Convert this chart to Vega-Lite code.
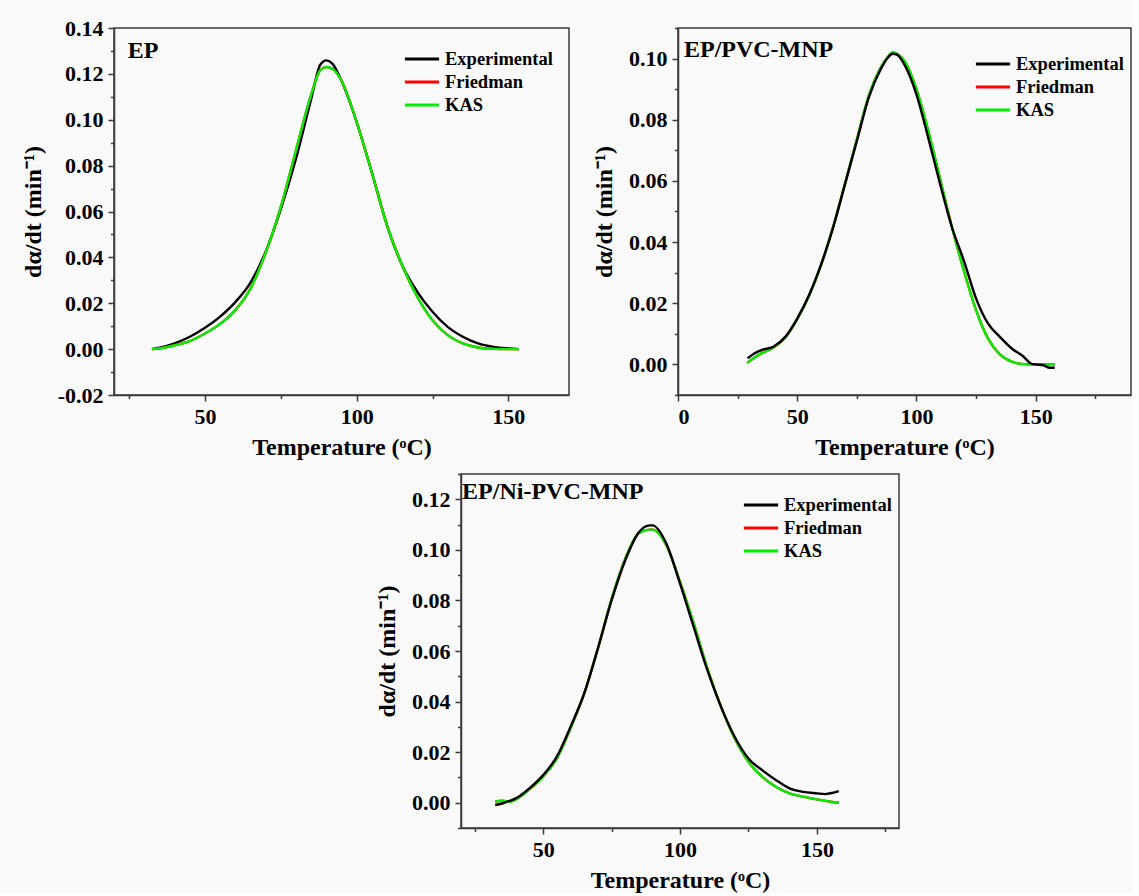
{
  "$schema": "https://vega.github.io/schema/vega-lite/v6.json",
  "background": "#f9f9f9",
  "padding": {"left": 20, "top": 16, "right": 0, "bottom": 0},
  "config": {
    "view": {"stroke": "#3a3a3a", "strokeWidth": 1.5},
    "axis": {
      "grid": false,
      "domainColor": "#3a3a3a", "domainWidth": 1.5,
      "tickColor": "#3a3a3a", "tickWidth": 1.5,
      "labelFont": "Liberation Serif", "labelFontWeight": "bold", "labelFontSize": 22, "labelColor": "#000000",
      "titleFont": "Liberation Serif", "titleFontWeight": "bold", "titleFontSize": 24, "titleColor": "#000000",
      "labelOverlap": false
    },
    "legend": {
      "orient": "none", "title": null, "symbolType": "M-1.5,0L1.5,0", "symbolStrokeWidth": 3,
      "symbolSize": 520, "labelFont": "Liberation Serif", "labelFontWeight": "bold", "labelFontSize": 18.5,
      "labelColor": "#000000", "rowPadding": 0, "labelOffset": 10, "padding": 0
    },
    "text": {"font": "Liberation Serif", "fontWeight": "bold", "fontSize": 24, "color": "#000000"}
  },
  "datasets": {
    "curves": [
      {"p": "EP", "s": "Experimental", "T": 32.5, "v": 0},
      {"p": "EP", "s": "Experimental", "T": 35, "v": 0.0006},
      {"p": "EP", "s": "Experimental", "T": 40, "v": 0.0025},
      {"p": "EP", "s": "Experimental", "T": 45, "v": 0.0054},
      {"p": "EP", "s": "Experimental", "T": 50, "v": 0.0093},
      {"p": "EP", "s": "Experimental", "T": 55, "v": 0.0142},
      {"p": "EP", "s": "Experimental", "T": 60, "v": 0.0205},
      {"p": "EP", "s": "Experimental", "T": 65, "v": 0.029},
      {"p": "EP", "s": "Experimental", "T": 70, "v": 0.0425},
      {"p": "EP", "s": "Experimental", "T": 75, "v": 0.061},
      {"p": "EP", "s": "Experimental", "T": 80, "v": 0.083},
      {"p": "EP", "s": "Experimental", "T": 85, "v": 0.109},
      {"p": "EP", "s": "Experimental", "T": 88, "v": 0.1240},
      {"p": "EP", "s": "Experimental", "T": 90, "v": 0.1259},
      {"p": "EP", "s": "Experimental", "T": 92, "v": 0.1245},
      {"p": "EP", "s": "Experimental", "T": 95, "v": 0.117},
      {"p": "EP", "s": "Experimental", "T": 100, "v": 0.099},
      {"p": "EP", "s": "Experimental", "T": 105, "v": 0.077},
      {"p": "EP", "s": "Experimental", "T": 110, "v": 0.054},
      {"p": "EP", "s": "Experimental", "T": 115, "v": 0.0366},
      {"p": "EP", "s": "Experimental", "T": 120, "v": 0.025},
      {"p": "EP", "s": "Experimental", "T": 125, "v": 0.0163},
      {"p": "EP", "s": "Experimental", "T": 130, "v": 0.0097},
      {"p": "EP", "s": "Experimental", "T": 135, "v": 0.0054},
      {"p": "EP", "s": "Experimental", "T": 140, "v": 0.0025},
      {"p": "EP", "s": "Experimental", "T": 145, "v": 0.001},
      {"p": "EP", "s": "Experimental", "T": 150, "v": 0.0003},
      {"p": "EP", "s": "Experimental", "T": 153.5, "v": 0},
      {"p": "EP", "s": "Friedman", "T": 32.5, "v": 0},
      {"p": "EP", "s": "Friedman", "T": 35, "v": 0.0003},
      {"p": "EP", "s": "Friedman", "T": 40, "v": 0.0017},
      {"p": "EP", "s": "Friedman", "T": 45, "v": 0.0035},
      {"p": "EP", "s": "Friedman", "T": 50, "v": 0.0068},
      {"p": "EP", "s": "Friedman", "T": 55, "v": 0.011},
      {"p": "EP", "s": "Friedman", "T": 60, "v": 0.017},
      {"p": "EP", "s": "Friedman", "T": 65, "v": 0.0264},
      {"p": "EP", "s": "Friedman", "T": 70, "v": 0.042},
      {"p": "EP", "s": "Friedman", "T": 75, "v": 0.062},
      {"p": "EP", "s": "Friedman", "T": 80, "v": 0.0867},
      {"p": "EP", "s": "Friedman", "T": 85, "v": 0.111},
      {"p": "EP", "s": "Friedman", "T": 88, "v": 0.1216},
      {"p": "EP", "s": "Friedman", "T": 90, "v": 0.123},
      {"p": "EP", "s": "Friedman", "T": 92, "v": 0.1222},
      {"p": "EP", "s": "Friedman", "T": 95, "v": 0.117},
      {"p": "EP", "s": "Friedman", "T": 100, "v": 0.099},
      {"p": "EP", "s": "Friedman", "T": 105, "v": 0.077},
      {"p": "EP", "s": "Friedman", "T": 110, "v": 0.054},
      {"p": "EP", "s": "Friedman", "T": 115, "v": 0.0366},
      {"p": "EP", "s": "Friedman", "T": 120, "v": 0.0228},
      {"p": "EP", "s": "Friedman", "T": 125, "v": 0.0126},
      {"p": "EP", "s": "Friedman", "T": 130, "v": 0.0061},
      {"p": "EP", "s": "Friedman", "T": 135, "v": 0.0025},
      {"p": "EP", "s": "Friedman", "T": 140, "v": 0.0007},
      {"p": "EP", "s": "Friedman", "T": 145, "v": 0.0001},
      {"p": "EP", "s": "Friedman", "T": 150, "v": 0},
      {"p": "EP", "s": "Friedman", "T": 153.5, "v": 0},
      {"p": "EP", "s": "KAS", "T": 32.5, "v": 0},
      {"p": "EP", "s": "KAS", "T": 35, "v": 0.0003},
      {"p": "EP", "s": "KAS", "T": 40, "v": 0.0017},
      {"p": "EP", "s": "KAS", "T": 45, "v": 0.0035},
      {"p": "EP", "s": "KAS", "T": 50, "v": 0.0068},
      {"p": "EP", "s": "KAS", "T": 55, "v": 0.011},
      {"p": "EP", "s": "KAS", "T": 60, "v": 0.017},
      {"p": "EP", "s": "KAS", "T": 65, "v": 0.0264},
      {"p": "EP", "s": "KAS", "T": 70, "v": 0.042},
      {"p": "EP", "s": "KAS", "T": 75, "v": 0.062},
      {"p": "EP", "s": "KAS", "T": 80, "v": 0.0867},
      {"p": "EP", "s": "KAS", "T": 85, "v": 0.111},
      {"p": "EP", "s": "KAS", "T": 88, "v": 0.1216},
      {"p": "EP", "s": "KAS", "T": 90, "v": 0.123},
      {"p": "EP", "s": "KAS", "T": 92, "v": 0.1222},
      {"p": "EP", "s": "KAS", "T": 95, "v": 0.117},
      {"p": "EP", "s": "KAS", "T": 100, "v": 0.099},
      {"p": "EP", "s": "KAS", "T": 105, "v": 0.077},
      {"p": "EP", "s": "KAS", "T": 110, "v": 0.054},
      {"p": "EP", "s": "KAS", "T": 115, "v": 0.0366},
      {"p": "EP", "s": "KAS", "T": 120, "v": 0.0228},
      {"p": "EP", "s": "KAS", "T": 125, "v": 0.0126},
      {"p": "EP", "s": "KAS", "T": 130, "v": 0.0061},
      {"p": "EP", "s": "KAS", "T": 135, "v": 0.0025},
      {"p": "EP", "s": "KAS", "T": 140, "v": 0.0007},
      {"p": "EP", "s": "KAS", "T": 145, "v": 0.0001},
      {"p": "EP", "s": "KAS", "T": 150, "v": 0},
      {"p": "EP", "s": "KAS", "T": 153.5, "v": 0},

      {"p": "PVC", "s": "Friedman", "T": 29, "v": 0.0005},
      {"p": "PVC", "s": "Friedman", "T": 32, "v": 0.0022},
      {"p": "PVC", "s": "Friedman", "T": 35, "v": 0.0036},
      {"p": "PVC", "s": "Friedman", "T": 40, "v": 0.0055},
      {"p": "PVC", "s": "Friedman", "T": 45, "v": 0.0088},
      {"p": "PVC", "s": "Friedman", "T": 50, "v": 0.0148},
      {"p": "PVC", "s": "Friedman", "T": 55, "v": 0.0225},
      {"p": "PVC", "s": "Friedman", "T": 60, "v": 0.0325},
      {"p": "PVC", "s": "Friedman", "T": 65, "v": 0.0448},
      {"p": "PVC", "s": "Friedman", "T": 70, "v": 0.059},
      {"p": "PVC", "s": "Friedman", "T": 75, "v": 0.0735},
      {"p": "PVC", "s": "Friedman", "T": 80, "v": 0.0878},
      {"p": "PVC", "s": "Friedman", "T": 85, "v": 0.097},
      {"p": "PVC", "s": "Friedman", "T": 88, "v": 0.1005},
      {"p": "PVC", "s": "Friedman", "T": 90, "v": 0.102},
      {"p": "PVC", "s": "Friedman", "T": 92, "v": 0.1015},
      {"p": "PVC", "s": "Friedman", "T": 95, "v": 0.0992},
      {"p": "PVC", "s": "Friedman", "T": 100, "v": 0.090},
      {"p": "PVC", "s": "Friedman", "T": 105, "v": 0.0763},
      {"p": "PVC", "s": "Friedman", "T": 110, "v": 0.0604},
      {"p": "PVC", "s": "Friedman", "T": 115, "v": 0.0446},
      {"p": "PVC", "s": "Friedman", "T": 120, "v": 0.0304},
      {"p": "PVC", "s": "Friedman", "T": 125, "v": 0.0178},
      {"p": "PVC", "s": "Friedman", "T": 130, "v": 0.0085},
      {"p": "PVC", "s": "Friedman", "T": 135, "v": 0.0033},
      {"p": "PVC", "s": "Friedman", "T": 140, "v": 0.0009},
      {"p": "PVC", "s": "Friedman", "T": 145, "v": 0.0001},
      {"p": "PVC", "s": "Friedman", "T": 150, "v": 0},
      {"p": "PVC", "s": "Friedman", "T": 158, "v": 0},
      {"p": "PVC", "s": "KAS", "T": 29, "v": 0.0005},
      {"p": "PVC", "s": "KAS", "T": 32, "v": 0.0022},
      {"p": "PVC", "s": "KAS", "T": 35, "v": 0.0036},
      {"p": "PVC", "s": "KAS", "T": 40, "v": 0.0055},
      {"p": "PVC", "s": "KAS", "T": 45, "v": 0.0088},
      {"p": "PVC", "s": "KAS", "T": 50, "v": 0.0148},
      {"p": "PVC", "s": "KAS", "T": 55, "v": 0.0225},
      {"p": "PVC", "s": "KAS", "T": 60, "v": 0.0325},
      {"p": "PVC", "s": "KAS", "T": 65, "v": 0.0448},
      {"p": "PVC", "s": "KAS", "T": 70, "v": 0.059},
      {"p": "PVC", "s": "KAS", "T": 75, "v": 0.0735},
      {"p": "PVC", "s": "KAS", "T": 80, "v": 0.0878},
      {"p": "PVC", "s": "KAS", "T": 85, "v": 0.097},
      {"p": "PVC", "s": "KAS", "T": 88, "v": 0.1005},
      {"p": "PVC", "s": "KAS", "T": 90, "v": 0.102},
      {"p": "PVC", "s": "KAS", "T": 92, "v": 0.1015},
      {"p": "PVC", "s": "KAS", "T": 95, "v": 0.0992},
      {"p": "PVC", "s": "KAS", "T": 100, "v": 0.090},
      {"p": "PVC", "s": "KAS", "T": 105, "v": 0.0763},
      {"p": "PVC", "s": "KAS", "T": 110, "v": 0.0604},
      {"p": "PVC", "s": "KAS", "T": 115, "v": 0.0446},
      {"p": "PVC", "s": "KAS", "T": 120, "v": 0.0304},
      {"p": "PVC", "s": "KAS", "T": 125, "v": 0.0178},
      {"p": "PVC", "s": "KAS", "T": 130, "v": 0.0085},
      {"p": "PVC", "s": "KAS", "T": 135, "v": 0.0033},
      {"p": "PVC", "s": "KAS", "T": 140, "v": 0.0009},
      {"p": "PVC", "s": "KAS", "T": 145, "v": 0.0001},
      {"p": "PVC", "s": "KAS", "T": 150, "v": 0},
      {"p": "PVC", "s": "KAS", "T": 158, "v": 0},
      {"p": "PVC", "s": "Experimental", "T": 29.2, "v": 0.002},
      {"p": "PVC", "s": "Experimental", "T": 32, "v": 0.0036},
      {"p": "PVC", "s": "Experimental", "T": 35, "v": 0.0047},
      {"p": "PVC", "s": "Experimental", "T": 40, "v": 0.0058},
      {"p": "PVC", "s": "Experimental", "T": 45, "v": 0.009},
      {"p": "PVC", "s": "Experimental", "T": 50, "v": 0.015},
      {"p": "PVC", "s": "Experimental", "T": 55, "v": 0.0227},
      {"p": "PVC", "s": "Experimental", "T": 60, "v": 0.0326},
      {"p": "PVC", "s": "Experimental", "T": 65, "v": 0.0446},
      {"p": "PVC", "s": "Experimental", "T": 70, "v": 0.0588},
      {"p": "PVC", "s": "Experimental", "T": 75, "v": 0.073},
      {"p": "PVC", "s": "Experimental", "T": 80, "v": 0.0872},
      {"p": "PVC", "s": "Experimental", "T": 85, "v": 0.0965},
      {"p": "PVC", "s": "Experimental", "T": 88, "v": 0.1003},
      {"p": "PVC", "s": "Experimental", "T": 90, "v": 0.1016},
      {"p": "PVC", "s": "Experimental", "T": 92, "v": 0.1012},
      {"p": "PVC", "s": "Experimental", "T": 95, "v": 0.098},
      {"p": "PVC", "s": "Experimental", "T": 100, "v": 0.0883},
      {"p": "PVC", "s": "Experimental", "T": 105, "v": 0.074},
      {"p": "PVC", "s": "Experimental", "T": 110, "v": 0.0588},
      {"p": "PVC", "s": "Experimental", "T": 115, "v": 0.0446},
      {"p": "PVC", "s": "Experimental", "T": 120, "v": 0.0337},
      {"p": "PVC", "s": "Experimental", "T": 125, "v": 0.0216},
      {"p": "PVC", "s": "Experimental", "T": 130, "v": 0.0134},
      {"p": "PVC", "s": "Experimental", "T": 135, "v": 0.009},
      {"p": "PVC", "s": "Experimental", "T": 140, "v": 0.0052},
      {"p": "PVC", "s": "Experimental", "T": 145, "v": 0.0025},
      {"p": "PVC", "s": "Experimental", "T": 148, "v": 0.0003},
      {"p": "PVC", "s": "Experimental", "T": 150, "v": 0},
      {"p": "PVC", "s": "Experimental", "T": 153, "v": -0.0002},
      {"p": "PVC", "s": "Experimental", "T": 156, "v": -0.0011},
      {"p": "PVC", "s": "Experimental", "T": 158, "v": -0.0011},

      {"p": "NI", "s": "Friedman", "T": 32.5, "v": 0.0004},
      {"p": "NI", "s": "Friedman", "T": 35, "v": 0.0008},
      {"p": "NI", "s": "Friedman", "T": 38, "v": 0.0004},
      {"p": "NI", "s": "Friedman", "T": 40, "v": 0.0013},
      {"p": "NI", "s": "Friedman", "T": 45, "v": 0.0053},
      {"p": "NI", "s": "Friedman", "T": 50, "v": 0.0103},
      {"p": "NI", "s": "Friedman", "T": 55, "v": 0.0175},
      {"p": "NI", "s": "Friedman", "T": 60, "v": 0.0294},
      {"p": "NI", "s": "Friedman", "T": 65, "v": 0.0432},
      {"p": "NI", "s": "Friedman", "T": 70, "v": 0.061},
      {"p": "NI", "s": "Friedman", "T": 75, "v": 0.0805},
      {"p": "NI", "s": "Friedman", "T": 80, "v": 0.0965},
      {"p": "NI", "s": "Friedman", "T": 85, "v": 0.1067},
      {"p": "NI", "s": "Friedman", "T": 89, "v": 0.108},
      {"p": "NI", "s": "Friedman", "T": 90, "v": 0.108},
      {"p": "NI", "s": "Friedman", "T": 95, "v": 0.1018},
      {"p": "NI", "s": "Friedman", "T": 100, "v": 0.0873},
      {"p": "NI", "s": "Friedman", "T": 105, "v": 0.0709},
      {"p": "NI", "s": "Friedman", "T": 110, "v": 0.0531},
      {"p": "NI", "s": "Friedman", "T": 115, "v": 0.0379},
      {"p": "NI", "s": "Friedman", "T": 120, "v": 0.0254},
      {"p": "NI", "s": "Friedman", "T": 125, "v": 0.0162},
      {"p": "NI", "s": "Friedman", "T": 130, "v": 0.0103},
      {"p": "NI", "s": "Friedman", "T": 135, "v": 0.0063},
      {"p": "NI", "s": "Friedman", "T": 140, "v": 0.0037},
      {"p": "NI", "s": "Friedman", "T": 145, "v": 0.0024},
      {"p": "NI", "s": "Friedman", "T": 150, "v": 0.0013},
      {"p": "NI", "s": "Friedman", "T": 155, "v": 0.0004},
      {"p": "NI", "s": "Friedman", "T": 158, "v": 0},
      {"p": "NI", "s": "KAS", "T": 32.5, "v": 0.0004},
      {"p": "NI", "s": "KAS", "T": 35, "v": 0.0008},
      {"p": "NI", "s": "KAS", "T": 38, "v": 0.0004},
      {"p": "NI", "s": "KAS", "T": 40, "v": 0.0013},
      {"p": "NI", "s": "KAS", "T": 45, "v": 0.0053},
      {"p": "NI", "s": "KAS", "T": 50, "v": 0.0103},
      {"p": "NI", "s": "KAS", "T": 55, "v": 0.0175},
      {"p": "NI", "s": "KAS", "T": 60, "v": 0.0294},
      {"p": "NI", "s": "KAS", "T": 65, "v": 0.0432},
      {"p": "NI", "s": "KAS", "T": 70, "v": 0.061},
      {"p": "NI", "s": "KAS", "T": 75, "v": 0.0805},
      {"p": "NI", "s": "KAS", "T": 80, "v": 0.0965},
      {"p": "NI", "s": "KAS", "T": 85, "v": 0.1067},
      {"p": "NI", "s": "KAS", "T": 89, "v": 0.108},
      {"p": "NI", "s": "KAS", "T": 90, "v": 0.108},
      {"p": "NI", "s": "KAS", "T": 95, "v": 0.1018},
      {"p": "NI", "s": "KAS", "T": 100, "v": 0.0873},
      {"p": "NI", "s": "KAS", "T": 105, "v": 0.0709},
      {"p": "NI", "s": "KAS", "T": 110, "v": 0.0531},
      {"p": "NI", "s": "KAS", "T": 115, "v": 0.0379},
      {"p": "NI", "s": "KAS", "T": 120, "v": 0.0254},
      {"p": "NI", "s": "KAS", "T": 125, "v": 0.0162},
      {"p": "NI", "s": "KAS", "T": 130, "v": 0.0103},
      {"p": "NI", "s": "KAS", "T": 135, "v": 0.0063},
      {"p": "NI", "s": "KAS", "T": 140, "v": 0.0037},
      {"p": "NI", "s": "KAS", "T": 145, "v": 0.0024},
      {"p": "NI", "s": "KAS", "T": 150, "v": 0.0013},
      {"p": "NI", "s": "KAS", "T": 155, "v": 0.0004},
      {"p": "NI", "s": "KAS", "T": 158, "v": 0},
      {"p": "NI", "s": "Experimental", "T": 32.5, "v": -0.0009},
      {"p": "NI", "s": "Experimental", "T": 35, "v": -0.0003},
      {"p": "NI", "s": "Experimental", "T": 38, "v": 0.0008},
      {"p": "NI", "s": "Experimental", "T": 40, "v": 0.0017},
      {"p": "NI", "s": "Experimental", "T": 45, "v": 0.0057},
      {"p": "NI", "s": "Experimental", "T": 50, "v": 0.0109},
      {"p": "NI", "s": "Experimental", "T": 55, "v": 0.0182},
      {"p": "NI", "s": "Experimental", "T": 60, "v": 0.030},
      {"p": "NI", "s": "Experimental", "T": 65, "v": 0.0432},
      {"p": "NI", "s": "Experimental", "T": 70, "v": 0.061},
      {"p": "NI", "s": "Experimental", "T": 75, "v": 0.080},
      {"p": "NI", "s": "Experimental", "T": 80, "v": 0.0959},
      {"p": "NI", "s": "Experimental", "T": 85, "v": 0.107},
      {"p": "NI", "s": "Experimental", "T": 89, "v": 0.1097},
      {"p": "NI", "s": "Experimental", "T": 90, "v": 0.1097},
      {"p": "NI", "s": "Experimental", "T": 95, "v": 0.1025},
      {"p": "NI", "s": "Experimental", "T": 100, "v": 0.0867},
      {"p": "NI", "s": "Experimental", "T": 105, "v": 0.0695},
      {"p": "NI", "s": "Experimental", "T": 110, "v": 0.0524},
      {"p": "NI", "s": "Experimental", "T": 115, "v": 0.0379},
      {"p": "NI", "s": "Experimental", "T": 120, "v": 0.026},
      {"p": "NI", "s": "Experimental", "T": 125, "v": 0.0175},
      {"p": "NI", "s": "Experimental", "T": 130, "v": 0.0129},
      {"p": "NI", "s": "Experimental", "T": 135, "v": 0.009},
      {"p": "NI", "s": "Experimental", "T": 140, "v": 0.0057},
      {"p": "NI", "s": "Experimental", "T": 145, "v": 0.0043},
      {"p": "NI", "s": "Experimental", "T": 150, "v": 0.0037},
      {"p": "NI", "s": "Experimental", "T": 153, "v": 0.0034},
      {"p": "NI", "s": "Experimental", "T": 156, "v": 0.004},
      {"p": "NI", "s": "Experimental", "T": 158, "v": 0.0046}
    ]
  },
  "resolve": {"legend": {"color": "independent"}, "scale": {"x": "independent", "y": "independent"}},
  "spacing": 2,
  "vconcat": [
    {
      "hconcat": [
        {
          "width": 455, "height": 367,
          "layer": [
            {
              "data": {"name": "curves"},
              "transform": [{"filter": "datum.p == 'EP'"}],
              "mark": {"type": "line", "interpolate": "monotone", "strokeWidth": 2.4},
              "encoding": {
                "x": {"field": "T", "type": "quantitative", "scale": {"domain": [20, 170], "nice": false, "zero": false},
                  "axis": {"title": "Temperature (ᵒC)", "values": [25, 50, 75, 100, 125, 150],
                    "labelExpr": "datum.value % 50 == 0 ? datum.label : ''",
                    "tickSize": {"condition": {"test": "datum.value % 50 != 0", "value": 3.5}, "value": 6},
                    "labelPadding": 5, "titlePadding": 8}},
                "y": {"field": "v", "type": "quantitative", "scale": {"domain": [-0.02, 0.14], "nice": false, "zero": false},
                  "axis": {"title": "dα/dt (min⁻¹)", "values": [-0.02, -0.01, 0, 0.01, 0.02, 0.03, 0.04, 0.05, 0.06, 0.07, 0.08, 0.09, 0.1, 0.11, 0.12, 0.13, 0.14],
                    "labelExpr": "abs(round(datum.value*100)) % 2 == 0 ? replace(format(datum.value, '.2f'), '\u2212', '-') : ''",
                    "tickSize": {"condition": {"test": "abs(round(datum.value*100)) % 2 == 1", "value": 3.5}, "value": 6},
                    "labelPadding": 5, "titlePadding": 12}},
                "color": {"field": "s", "type": "nominal",
                  "scale": {"domain": ["Experimental", "Friedman", "KAS"], "range": ["#000000", "#ff0000", "#00ee00"]},
                  "legend": {"legendX": 295, "legendY": 18}}
              }
            },
            {
              "data": {"values": [{"label": "EP"}]},
              "mark": {"type": "text", "align": "left", "baseline": "middle"},
              "encoding": {
                "x": {"datum": 24.5, "type": "quantitative",
                  "axis": {"title": "Temperature (ᵒC)", "values": [25, 50, 75, 100, 125, 150],
                    "labelExpr": "datum.value % 50 == 0 ? datum.label : ''",
                    "tickSize": {"condition": {"test": "datum.value % 50 != 0", "value": 3.5}, "value": 6},
                    "labelPadding": 5, "titlePadding": 8}},
                "y": {"datum": 0.130, "type": "quantitative",
                  "axis": {"title": "dα/dt (min⁻¹)", "values": [-0.02, -0.01, 0, 0.01, 0.02, 0.03, 0.04, 0.05, 0.06, 0.07, 0.08, 0.09, 0.1, 0.11, 0.12, 0.13, 0.14],
                    "labelExpr": "abs(round(datum.value*100)) % 2 == 0 ? replace(format(datum.value, '.2f'), '\u2212', '-') : ''",
                    "tickSize": {"condition": {"test": "abs(round(datum.value*100)) % 2 == 1", "value": 3.5}, "value": 6},
                    "labelPadding": 5, "titlePadding": 12}},
                "text": {"field": "label"}}
            }
          ]
        },
        {
          "width": 453, "height": 367,
          "layer": [
            {
              "data": {"name": "curves"},
              "transform": [{"filter": "datum.p == 'PVC'"}],
              "mark": {"type": "line", "interpolate": "monotone", "strokeWidth": 2.4},
              "encoding": {
                "x": {"field": "T", "type": "quantitative", "scale": {"domain": [0, 190], "nice": false, "zero": false},
                  "axis": {"title": "Temperature (ᵒC)", "values": [0, 25, 50, 75, 100, 125, 150, 175],
                    "labelExpr": "datum.value % 50 == 0 ? datum.label : ''",
                    "tickSize": {"condition": {"test": "datum.value % 50 != 0", "value": 3.5}, "value": 6},
                    "labelPadding": 5, "titlePadding": 8}},
                "y": {"field": "v", "type": "quantitative", "scale": {"domain": [-0.01, 0.11], "nice": false, "zero": false},
                  "axis": {"title": "dα/dt (min⁻¹)", "values": [-0.01, 0, 0.01, 0.02, 0.03, 0.04, 0.05, 0.06, 0.07, 0.08, 0.09, 0.1, 0.11],
                    "labelExpr": "abs(round(datum.value*100)) % 2 == 0 ? replace(format(datum.value, '.2f'), '\u2212', '-') : ''",
                    "tickSize": {"condition": {"test": "abs(round(datum.value*100)) % 2 == 1", "value": 3.5}, "value": 6},
                    "labelPadding": 5, "titlePadding": 12}},
                "color": {"field": "s", "type": "nominal",
                  "scale": {"domain": ["Experimental", "Friedman", "KAS"], "range": ["#000000", "#ff0000", "#00ee00"]},
                  "legend": {"legendX": 302, "legendY": 23}}
              }
            },
            {
              "data": {"values": [{"label": "EP/PVC-MNP"}]},
              "mark": {"type": "text", "align": "left", "baseline": "middle"},
              "encoding": {
                "x": {"datum": 2.5, "type": "quantitative",
                  "axis": {"title": "Temperature (ᵒC)", "values": [0, 25, 50, 75, 100, 125, 150, 175],
                    "labelExpr": "datum.value % 50 == 0 ? datum.label : ''",
                    "tickSize": {"condition": {"test": "datum.value % 50 != 0", "value": 3.5}, "value": 6},
                    "labelPadding": 5, "titlePadding": 8}},
                "y": {"datum": 0.1027, "type": "quantitative",
                  "axis": {"title": "dα/dt (min⁻¹)", "values": [-0.01, 0, 0.01, 0.02, 0.03, 0.04, 0.05, 0.06, 0.07, 0.08, 0.09, 0.1, 0.11],
                    "labelExpr": "abs(round(datum.value*100)) % 2 == 0 ? replace(format(datum.value, '.2f'), '\u2212', '-') : ''",
                    "tickSize": {"condition": {"test": "abs(round(datum.value*100)) % 2 == 1", "value": 3.5}, "value": 6},
                    "labelPadding": 5, "titlePadding": 12}},
                "text": {"field": "label"}}
            }
          ]
        }
      ],
      "spacing": 21,
      "resolve": {"legend": {"color": "independent"}, "scale": {"x": "independent", "y": "independent"}}
    },
    {
      "hconcat": [
        {
          "width": 260, "height": 10,
          "data": {"values": []},
          "mark": {"type": "point", "opacity": 0},
          "view": {"stroke": null}
        },
        {
          "width": 438, "height": 354,
          "layer": [
            {
              "data": {"name": "curves"},
              "transform": [{"filter": "datum.p == 'NI'"}],
              "mark": {"type": "line", "interpolate": "monotone", "strokeWidth": 2.4},
              "encoding": {
                "x": {"field": "T", "type": "quantitative", "scale": {"domain": [20, 180], "nice": false, "zero": false},
                  "axis": {"title": "Temperature (ᵒC)", "values": [25, 50, 75, 100, 125, 150, 175],
                    "labelExpr": "datum.value % 50 == 0 ? datum.label : ''",
                    "tickSize": {"condition": {"test": "datum.value % 50 != 0", "value": 3.5}, "value": 6},
                    "labelPadding": 5, "titlePadding": 8}},
                "y": {"field": "v", "type": "quantitative", "scale": {"domain": [-0.01, 0.13], "nice": false, "zero": false},
                  "axis": {"title": "dα/dt (min⁻¹)", "values": [-0.01, 0, 0.01, 0.02, 0.03, 0.04, 0.05, 0.06, 0.07, 0.08, 0.09, 0.1, 0.11, 0.12, 0.13],
                    "labelExpr": "abs(round(datum.value*100)) % 2 == 0 ? replace(format(datum.value, '.2f'), '\u2212', '-') : ''",
                    "tickSize": {"condition": {"test": "abs(round(datum.value*100)) % 2 == 1", "value": 3.5}, "value": 6},
                    "labelPadding": 5, "titlePadding": 12}},
                "color": {"field": "s", "type": "nominal",
                  "scale": {"domain": ["Experimental", "Friedman", "KAS"], "range": ["#000000", "#ff0000", "#00ee00"]},
                  "legend": {"legendX": 287, "legendY": 18}}
              }
            },
            {
              "data": {"values": [{"label": "EP/Ni-PVC-MNP"}]},
              "mark": {"type": "text", "align": "left", "baseline": "middle"},
              "encoding": {
                "x": {"datum": 20.4, "type": "quantitative",
                  "axis": {"title": "Temperature (ᵒC)", "values": [25, 50, 75, 100, 125, 150, 175],
                    "labelExpr": "datum.value % 50 == 0 ? datum.label : ''",
                    "tickSize": {"condition": {"test": "datum.value % 50 != 0", "value": 3.5}, "value": 6},
                    "labelPadding": 5, "titlePadding": 8}},
                "y": {"datum": 0.1227, "type": "quantitative",
                  "axis": {"title": "dα/dt (min⁻¹)", "values": [-0.01, 0, 0.01, 0.02, 0.03, 0.04, 0.05, 0.06, 0.07, 0.08, 0.09, 0.1, 0.11, 0.12, 0.13],
                    "labelExpr": "abs(round(datum.value*100)) % 2 == 0 ? replace(format(datum.value, '.2f'), '\u2212', '-') : ''",
                    "tickSize": {"condition": {"test": "abs(round(datum.value*100)) % 2 == 1", "value": 3.5}, "value": 6},
                    "labelPadding": 5, "titlePadding": 12}},
                "text": {"field": "label"}}
            }
          ]
        }
      ],
      "spacing": 0,
      "resolve": {"legend": {"color": "independent"}, "scale": {"x": "independent", "y": "independent"}}
    }
  ]
}
